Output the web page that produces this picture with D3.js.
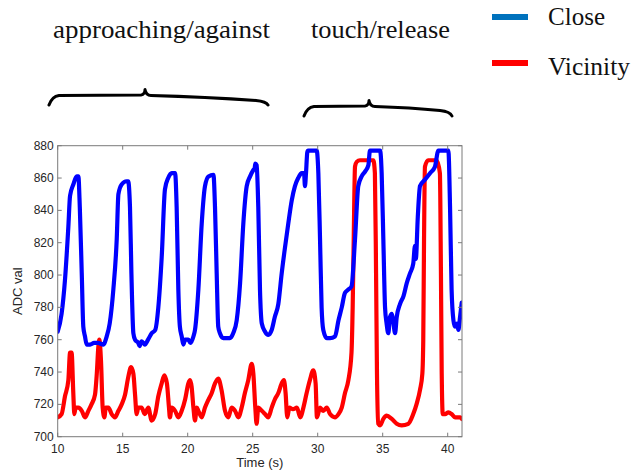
<!DOCTYPE html>
<html lang="en">
<head>
    <meta charset="UTF-8">
    <title>ADC val vs Time</title>
    <script src="https://cdn.jsdelivr.net/npm/d3@7.9.0/dist/d3.min.js"></script>
    <style>
        body {
            margin: 0;
            background: #fff;
            overflow: hidden;
        }
        svg {
            display: block;
        }
        .tick-label {
            font-family: "Liberation Sans", Arial, sans-serif;
            font-size: 12px;
            fill: #262626;
        }
        .axis-title {
            font-family: "Liberation Sans", Arial, sans-serif;
            font-size: 13px;
            fill: #262626;
        }
        .note {
            font-family: "Liberation Serif", "DejaVu Serif", serif;
            font-size: 25px;
            fill: #111;
        }
    </style>
</head>
<body>
<svg id="chart" width="631" height="472"></svg>

<script>
    // --- data ---
    const closeTime = [10.0, 10.3, 10.56, 10.82, 10.95, 11.2, 11.46, 11.59, 11.7, 11.85, 11.97, 12.1, 12.23, 12.5, 12.8, 13.1, 13.5, 13.77, 14.0, 14.28, 14.54, 14.67, 14.92, 15.3, 15.42, 15.56, 15.67, 15.82, 15.95, 16.2, 16.3, 16.45, 16.6, 16.7, 16.95, 17.23, 17.5, 17.74, 18.0, 18.25, 18.5, 18.77, 19.03, 19.15, 19.28, 19.4, 19.54, 19.67, 19.8, 20.05, 20.2, 20.3, 20.44, 20.56, 20.82, 21.08, 21.33, 21.6, 21.98, 22.1, 22.23, 22.35, 22.48, 22.74, 23.25, 23.5, 23.77, 24.03, 24.28, 24.54, 24.8, 25.05, 25.15, 25.2, 25.3, 25.43, 25.56, 25.7, 25.95, 26.2, 26.46, 26.7, 26.97, 27.23, 27.5, 27.74, 28.0, 28.25, 28.5, 28.77, 28.95, 29.02, 29.1, 29.2, 29.26, 29.92, 30.05, 30.18, 30.3, 30.43, 30.7, 30.95, 31.33, 31.6, 31.85, 32.1, 32.36, 32.6, 32.87, 33.12, 33.38, 33.64, 33.9, 34.02, 34.8, 34.92, 35.05, 35.18, 35.3, 35.43, 35.56, 35.7, 35.8, 35.95, 36.08, 36.33, 36.6, 36.85, 37.1, 37.35, 37.48, 37.55, 37.7, 37.87, 38.25, 38.64, 39.02, 39.28, 40.05, 40.18, 40.3, 40.44, 40.56, 40.7, 40.82, 40.95, 41.08];
    const closeVal = [765, 776, 797, 830, 849, 856, 861, 861, 842, 801, 768, 762, 757, 757, 758, 758, 757, 762, 770, 791, 822, 850, 856, 858, 858, 842, 801, 764, 760, 758, 756, 759, 758, 757, 760, 764, 766, 780, 811, 853, 860, 863, 863, 842, 791, 768, 762, 757, 760, 760, 758, 759, 762, 766, 791, 832, 855, 861, 862, 842, 801, 768, 764, 761, 761, 764, 772, 795, 832, 855, 861, 865, 866, 869, 868, 842, 791, 770, 765, 763, 766, 774, 782, 801, 818, 832, 846, 855, 860, 863, 863, 855, 863, 876, 877, 877, 863, 822, 780, 766, 761, 761, 762, 772, 780, 789, 791, 793, 822, 855, 861, 864, 868, 877, 877, 863, 822, 780, 770, 764, 774, 776, 772, 764, 774, 782, 787, 795, 801, 807, 818, 810, 836, 855, 859, 863, 867, 877, 877, 842, 791, 772, 768, 770, 766, 774, 783];

    const vicinityTime = [10.0, 10.3, 10.56, 10.82, 10.95, 11.07, 11.2, 11.28, 11.38, 11.6, 11.85, 12.1, 12.36, 12.6, 12.87, 13.0, 13.13, 13.2, 13.33, 13.46, 13.59, 13.7, 13.9, 14.15, 14.4, 14.67, 14.92, 15.18, 15.43, 15.64, 15.82, 15.95, 16.07, 16.2, 16.45, 16.7, 16.97, 17.23, 17.5, 17.74, 18.0, 18.2, 18.4, 18.56, 18.63, 18.77, 19.03, 19.28, 19.54, 19.8, 20.05, 20.18, 20.3, 20.44, 20.56, 20.7, 20.82, 21.08, 21.33, 21.6, 21.85, 22.1, 22.35, 22.6, 22.87, 23.12, 23.38, 23.64, 23.9, 24.15, 24.4, 24.66, 24.92, 25.05, 25.2, 25.3, 25.43, 25.7, 25.95, 26.2, 26.46, 26.7, 26.97, 27.23, 27.4, 27.53, 27.66, 27.82, 28.1, 28.4, 28.66, 28.9, 29.15, 29.4, 29.66, 29.84, 29.94, 30.18, 30.43, 30.7, 30.95, 31.33, 31.6, 31.85, 32.1, 32.36, 32.6, 32.69, 32.77, 32.87, 33.0, 33.25, 34.28, 34.4, 34.49, 34.56, 34.66, 34.8, 35.05, 35.3, 35.7, 36.08, 36.46, 36.97, 37.35, 37.6, 37.87, 38.05, 38.12, 38.18, 38.25, 38.5, 39.15, 39.4, 39.48, 39.54, 39.62, 39.8, 40.05, 40.3, 40.56, 40.95, 41.08];
    const vicinityVal = [712, 714, 725, 735, 752, 752, 727, 714, 718, 718, 716, 712, 716, 720, 726, 738, 756, 760, 747, 718, 712, 718, 718, 714, 712, 716, 720, 726, 737, 743, 739, 726, 714, 718, 718, 714, 718, 710, 714, 725, 733, 738, 733, 718, 712, 718, 716, 712, 716, 723, 733, 735, 731, 718, 710, 718, 716, 712, 718, 723, 727, 733, 736, 729, 716, 712, 718, 716, 712, 718, 727, 735, 745, 739, 718, 708, 718, 716, 714, 712, 718, 723, 727, 733, 735, 727, 712, 718, 717, 718, 712, 718, 727, 735, 741, 733, 712, 718, 716, 718, 714, 712, 714, 718, 727, 735, 752, 780, 822, 867, 870, 871, 871, 863, 801, 739, 708, 707, 711, 713, 711, 708, 707, 708, 714, 720, 729, 739, 760, 822, 867, 871, 871, 863, 801, 739, 714, 714, 715, 714, 712, 712, 711];

    const xTicks = [10, 15, 20, 25, 30, 35, 40];
    const yTicks = [700, 720, 740, 760, 780, 800, 820, 840, 860, 880];

    const seriesNames = ["Close", "Vicinity"];
    const legendColors = ["#0072bd", "#ff0000"];
    const lineColors = ["#0000ff", "#ff0000"];

    const phaseLabels = ["approaching/against", "touch/release"];

    // --- layout ---
    const svg = d3.select("#chart");
    const plot = {left: 57.7, top: 145.7, right: 462, bottom: 436.7};

    const x = d3.scaleLinear().domain([10, 41.1]).range([plot.left, plot.right]);
    const y = d3.scaleLinear().domain([700, 880]).range([plot.bottom, plot.top]);

    svg.append("defs").append("clipPath")
        .attr("id", "plot-clip")
        .append("rect")
        .attr("x", plot.left)
        .attr("y", plot.top - 3)
        .attr("width", plot.right - plot.left)
        .attr("height", plot.bottom - plot.top + 3);

    // series lines (red underneath, blue on top)
    const line = d3.line()
        .x(d => x(d[0]))
        .y(d => y(d[1]))
        .curve(d3.curveMonotoneX);

    const closeData = d3.zip(closeTime, closeVal);
    const vicinityData = d3.zip(vicinityTime, vicinityVal);

    const lines = svg.append("g").attr("clip-path", "url(#plot-clip)");
    [[vicinityData, lineColors[1]], [closeData, lineColors[0]]].forEach(([data, color]) => {
        lines.append("path")
            .datum(data)
            .attr("d", line)
            .attr("fill", "none")
            .attr("stroke", color)
            .attr("stroke-width", 4.2)
            .attr("stroke-linejoin", "round")
            .attr("stroke-linecap", "round");
    });

    // box + ticks (matlab style, ticks inside on all four sides)
    const frame = svg.append("g").attr("stroke", "#7a7a7a").attr("stroke-width", 1).attr("fill", "none");
    frame.append("rect")
        .attr("x", plot.left)
        .attr("y", plot.top)
        .attr("width", plot.right - plot.left)
        .attr("height", plot.bottom - plot.top);

    const tickLen = 4;
    xTicks.forEach(t => {
        frame.append("line").attr("x1", x(t)).attr("x2", x(t)).attr("y1", plot.bottom).attr("y2", plot.bottom - tickLen);
        frame.append("line").attr("x1", x(t)).attr("x2", x(t)).attr("y1", plot.top).attr("y2", plot.top + tickLen);
    });
    yTicks.forEach(v => {
        frame.append("line").attr("x1", plot.left).attr("x2", plot.left + tickLen).attr("y1", y(v)).attr("y2", y(v));
        frame.append("line").attr("x1", plot.right).attr("x2", plot.right - tickLen).attr("y1", y(v)).attr("y2", y(v));
    });

    svg.append("g").selectAll("text")
        .data(xTicks)
        .enter().append("text")
        .attr("class", "tick-label")
        .attr("x", d => x(d))
        .attr("y", plot.bottom + 16)
        .attr("text-anchor", "middle")
        .text(d => d);

    svg.append("g").selectAll("text")
        .data(yTicks)
        .enter().append("text")
        .attr("class", "tick-label")
        .attr("x", plot.left - 4)
        .attr("y", d => y(d) + 4)
        .attr("text-anchor", "end")
        .text(d => d);

    svg.append("text")
        .attr("class", "axis-title")
        .attr("x", (plot.left + plot.right) / 2)
        .attr("y", 467)
        .attr("text-anchor", "middle")
        .text("Time (s)");

    svg.append("text")
        .attr("class", "axis-title")
        .attr("transform", `translate(22,${(plot.top + plot.bottom) / 2}) rotate(-90)`)
        .attr("text-anchor", "middle")
        .text("ADC val");

    // --- annotations above the plot ---
    // palatino is not installed, so stretch the serif to the same width
    svg.append("text").attr("class", "note").attr("x", 53).attr("y", 38)
        .attr("textLength", 217).attr("lengthAdjust", "spacingAndGlyphs")
        .text(phaseLabels[0]);
    svg.append("text").attr("class", "note").attr("x", 311).attr("y", 38)
        .attr("textLength", 139).attr("lengthAdjust", "spacingAndGlyphs")
        .text(phaseLabels[1]);

    // hand-drawn curly braces
    function brace(x0, x1, xm, yEnd, yTop, tilt) {
        const p = d3.path();
        p.moveTo(x0, yEnd);
        p.quadraticCurveTo(x0 + 3, yTop + 1, x0 + 10, yTop);
        p.lineTo(xm - 4, yTop - 0.5);
        p.quadraticCurveTo(xm, yTop - 1, xm, yTop - 6);
        p.quadraticCurveTo(xm + 1, yTop, xm + 6, yTop);
        p.quadraticCurveTo((xm + x1) / 2, yTop + tilt * 0.3, x1 - 12, yTop + tilt);
        p.quadraticCurveTo(x1 - 2, yTop + tilt + 1, x1, yEnd);
        return p.toString();
    }

    const braces = svg.append("g")
        .attr("fill", "none")
        .attr("stroke", "#000")
        .attr("stroke-width", 3)
        .attr("stroke-linecap", "round")
        .attr("stroke-linejoin", "round");
    braces.append("path").attr("d", brace(49, 268, 145, 105, 95.5, 5));
    braces.append("path").attr("d", brace(304, 452, 369, 116, 106.5, 4));

    // --- legend ---
    const legend = svg.append("g");
    const legendWidths = [57, 82];
    seriesNames.forEach((name, i) => {
        const ly = 17 + i * 46;
        legend.append("line")
            .attr("x1", 492).attr("x2", 528)
            .attr("y1", ly).attr("y2", ly)
            .attr("stroke", legendColors[i])
            .attr("stroke-width", 6);
        legend.append("text")
            .attr("class", "note")
            .attr("x", 548)
            .attr("y", ly + 8 + i * 4)
            .attr("textLength", legendWidths[i])
            .attr("lengthAdjust", "spacingAndGlyphs")
            .text(name);
    });
</script>
</body>
</html>
